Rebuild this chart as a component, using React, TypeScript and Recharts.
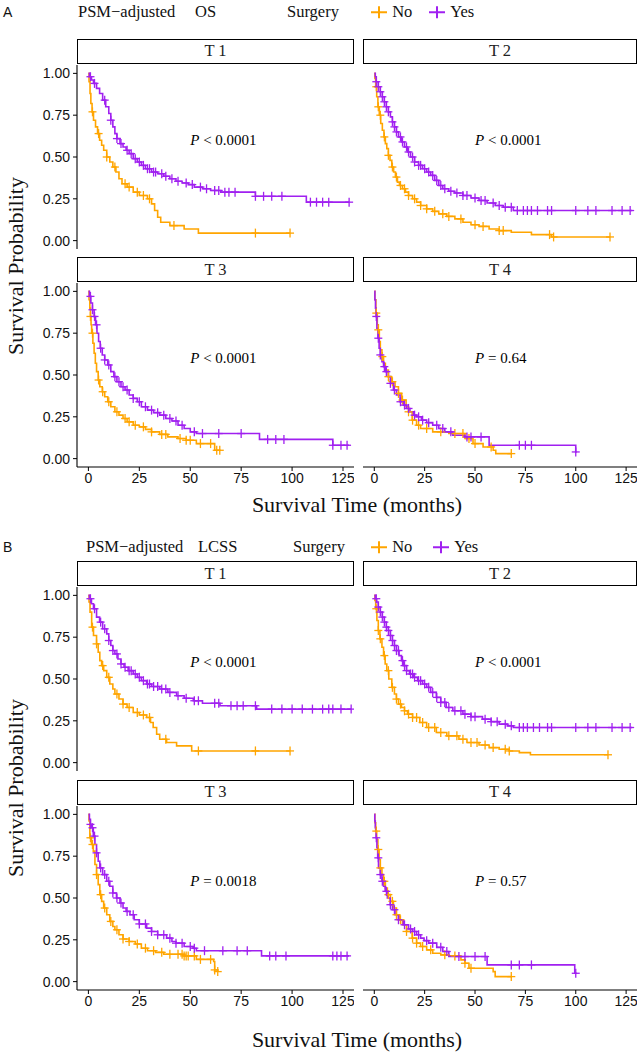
import React from 'react';
import { ComposedChart, Line, Scatter, XAxis, YAxis, ReferenceDot } from 'recharts';

type Pt = [number, number];

const ORANGE = '#FFA500';
const PURPLE = '#A020F0';
const SERIF = '"Liberation Serif", "Times New Roman", serif';
const SANS = '"Liberation Sans", Arial, sans-serif';

const strata = ['T 1', 'T 2', 'T 3', 'T 4'];
const xTicks = [0, 25, 50, 75, 100, 125];
const yTicks = [0, 0.25, 0.5, 0.75, 1];
const osPvals = ['< 0.0001', '< 0.0001', '< 0.0001', '= 0.64'];
const lcssPvals = ['< 0.0001', '< 0.0001', '= 0.0018', '= 0.57'];

// ---- OS (A) : [time, survival] steps, censor times ----
const osT1No: Pt[] = [[0,1],[0.3,0.95],[0.8,0.88],[1.2,0.82],[1.8,0.77],[2.5,0.72],[3.5,0.68],[4.5,0.64],[5.5,0.6],[6.5,0.57],[7.5,0.54],[9,0.5],[10.5,0.47],[12,0.44],[13.5,0.41],[15,0.37],[16.5,0.34],[19,0.32],[22,0.29],[25,0.27],[29,0.25],[31,0.22],[32.5,0.18],[34,0.14],[35.5,0.11],[40,0.09],[47,0.07],[54,0.045],[99,0.045]];
const osT1NoCens = [2,5,9,13,18,20,24,27,30,42,82,99];
const osT1Yes: Pt[] = [[0,1],[0.5,0.98],[1.5,0.96],[2.5,0.94],[4,0.91],[5.5,0.88],[7,0.84],[8.5,0.8],[10,0.76],[11,0.72],[12,0.68],[13,0.64],[14,0.61],[15.5,0.58],[17,0.56],[18.5,0.54],[20,0.52],[22,0.49],[24,0.47],[26,0.45],[28,0.43],[31,0.41],[34,0.4],[37,0.385],[40,0.37],[43,0.355],[46,0.345],[49,0.335],[52,0.32],[56,0.31],[60,0.3],[65,0.29],[82,0.265],[107,0.23],[128,0.23]];
const osT1YesCens = [1,3,8,11,14,16,19,21,23,25,27,29,30,32,33,36,38,41,44,48,51,55,58,62,64,67,69,72,82,86,90,95,109,112,115,118,128];

const osT2No: Pt[] = [[0,1],[0.3,0.97],[0.7,0.92],[1.2,0.86],[1.8,0.8],[2.5,0.75],[3.2,0.7],[4,0.66],[4.8,0.62],[5.5,0.58],[6.2,0.55],[7,0.51],[7.8,0.48],[8.7,0.44],[9.6,0.41],[10.5,0.38],[11.5,0.35],[12.5,0.33],[14,0.31],[15.5,0.29],[17,0.27],[19,0.25],[21,0.23],[23,0.21],[26,0.19],[29,0.175],[32,0.16],[36,0.145],[40,0.13],[44,0.11],[48,0.095],[52,0.085],[57,0.07],[62,0.06],[68,0.05],[78,0.036],[88,0.022],[117,0.022]];
const osT2NoCens = [1,2,3,5,7,9,11,13,15,17,20,23,26,30,34,37,43,50,54,62,64,87,89,117];
const osT2Yes: Pt[] = [[0,1],[0.5,0.98],[1,0.95],[2,0.92],[3,0.89],[4,0.86],[5,0.83],[6,0.8],[7,0.77],[8,0.74],[9,0.71],[10,0.68],[11,0.65],[12,0.62],[13.5,0.59],[15,0.56],[16.5,0.53],[18,0.5],[20,0.47],[22,0.45],[24,0.43],[26,0.41],[28,0.39],[30,0.36],[32,0.33],[34,0.31],[37,0.295],[40,0.285],[44,0.27],[48,0.255],[52,0.24],[56,0.225],[60,0.21],[64,0.2],[69,0.18],[128,0.18]];
const osT2YesCens = [1,2,3,4,5,6,7,9,10,11,13,14,16,17,19,20,22,23,25,27,29,31,33,35,38,41,44,46,50,53,55,59,62,65,68,71,74,76,78,81,86,88,100,106,110,118,123,127];

const osT3No: Pt[] = [[0,1],[0.3,0.95],[0.7,0.9],[1,0.85],[1.3,0.8],[1.6,0.75],[2.2,0.69],[2.8,0.63],[3.4,0.57],[4,0.52],[4.8,0.47],[5.6,0.43],[6.8,0.4],[8,0.37],[9.5,0.34],[11,0.31],[13,0.28],[15,0.26],[17,0.24],[19,0.22],[22,0.2],[25,0.19],[28,0.175],[31,0.16],[35,0.145],[39,0.13],[44,0.12],[48,0.11],[53,0.09],[62,0.05],[64.5,0.05]];
const osT3NoCens = [1,2,5,7,10,14,18,20,23,27,31,36,38,45,48,50,55,60,63,64.5];
const osT3Yes: Pt[] = [[0,1],[0.5,0.97],[1.2,0.93],[2,0.89],[2.8,0.85],[3.5,0.8],[4.2,0.75],[5,0.7],[5.8,0.66],[6.8,0.62],[8,0.59],[9.5,0.56],[11,0.52],[12.5,0.49],[14,0.46],[16,0.43],[18,0.41],[20,0.38],[22,0.36],[24,0.34],[26,0.31],[29,0.29],[32,0.275],[35,0.26],[38,0.24],[41,0.225],[44,0.2],[47,0.18],[50,0.16],[53,0.15],[84,0.115],[120,0.08],[128,0.08]];
const osT3YesCens = [1,2,3,4,6,8,10,13,15,17,19,22,25,28,31,34,37,40,43,46,52,56,64,75,88,92,96,120,124,127];

const osT4No: Pt[] = [[0,1],[0.3,0.95],[0.8,0.87],[1.5,0.8],[2,0.77],[2.5,0.7],[3,0.65],[3.8,0.61],[4.6,0.57],[5.5,0.53],[7,0.49],[8.5,0.46],[10.3,0.43],[12,0.39],[13.6,0.35],[15.8,0.31],[17,0.28],[18.8,0.23],[21,0.2],[23,0.18],[29,0.16],[37,0.15],[45,0.12],[49,0.09],[54,0.07],[59,0.05],[60.3,0.03],[68.4,0.03]];
const osT4NoCens = [1,2,4,7,9,12,14,17,19,22,26,33,40,44,47,50,58,68];
const osT4Yes: Pt[] = [[0,1],[0.3,0.95],[0.6,0.9],[0.9,0.85],[1.3,0.78],[1.8,0.72],[2.4,0.66],[3,0.62],[3.8,0.58],[4.6,0.55],[5.5,0.52],[7,0.49],[8,0.45],[9.5,0.41],[11,0.38],[12.8,0.34],[14.5,0.32],[16,0.3],[17.7,0.28],[19.5,0.26],[21,0.25],[23.4,0.23],[26,0.215],[29,0.2],[32,0.18],[35,0.16],[39,0.14],[45,0.13],[57,0.08],[100,0.04],[100.5,0.04]];
const osT4YesCens = [1,2,3,5,6,8,10,13,15,17,20,22,24,27,31,34,38,46,48,53,72,75,78,100];

// ---- LCSS (B) ----
const lcssT1No: Pt[] = [[0,1],[0.3,0.96],[0.8,0.9],[1.6,0.81],[2.5,0.76],[4,0.71],[4.8,0.66],[5.6,0.61],[6.5,0.58],[7.5,0.55],[9,0.51],[10.5,0.47],[12,0.44],[13,0.41],[15,0.38],[17,0.35],[19,0.33],[22,0.3],[25,0.285],[28.6,0.27],[30.5,0.24],[31.8,0.21],[33.5,0.17],[35,0.14],[38.4,0.12],[43.3,0.1],[50.7,0.07],[99,0.07]];
const lcssT1NoCens = [2,4,7,10,14,17,20,24,27,30,38,54,82,99];
const lcssT1Yes: Pt[] = [[0,1],[0.5,0.98],[1.5,0.95],[2.5,0.92],[4,0.87],[5.5,0.84],[7,0.8],[9,0.77],[10,0.73],[11,0.7],[12,0.67],[13,0.65],[14.5,0.62],[16,0.59],[17.5,0.57],[19.5,0.55],[22,0.53],[24,0.51],[26,0.49],[28.6,0.47],[31,0.455],[35,0.44],[39,0.42],[43.3,0.4],[47,0.385],[51.5,0.37],[56,0.355],[64.6,0.34],[82.6,0.32],[129,0.32]];
const lcssT1YesCens = [1,3,6,8,10,12,14,16,18,20,21,23,25,27,29,30,32,34,36,38,40,44,48,52,54,62,64,70,73,76,82,90,95,100,105,110,115,118,120,124,129];

const lcssT2No: Pt[] = [[0,1],[0.3,0.97],[0.7,0.92],[1.3,0.85],[2,0.79],[2.8,0.74],[3.8,0.69],[4.6,0.64],[5.4,0.59],[6.2,0.55],[7.2,0.5],[8.7,0.45],[10,0.41],[11,0.38],[12,0.35],[13.5,0.33],[15,0.31],[16.5,0.29],[19,0.27],[22.6,0.24],[26,0.21],[30.8,0.18],[36,0.16],[42,0.14],[46,0.12],[52,0.105],[57,0.09],[62,0.08],[67,0.07],[72,0.06],[77.5,0.047],[116,0.047]];
const lcssT2NoCens = [1,2,3,5,7,9,11,13,15,17,19,21,24,27,30,33,37,41,44,48,51,55,59,65,67,116];
const lcssT2Yes: Pt[] = [[0,1],[0.5,0.98],[1.2,0.96],[2,0.93],[3,0.9],[4,0.87],[5,0.84],[6,0.81],[7,0.79],[8,0.76],[9,0.73],[10,0.7],[11,0.67],[12.3,0.64],[13.5,0.61],[14.4,0.58],[16,0.55],[17.5,0.53],[19.3,0.51],[21.5,0.49],[24,0.47],[26,0.45],[28,0.42],[30.8,0.39],[33,0.36],[35.7,0.33],[39,0.31],[44,0.29],[48,0.275],[53.7,0.26],[58,0.245],[62,0.23],[66,0.22],[69,0.21],[128,0.21]];
const lcssT2YesCens = [1,2,3,4,5,6,7,8,9,10,11,12,14,15,16,18,19,20,22,23,25,27,29,31,33,35,37,40,43,45,48,50,55,58,61,65,68,72,74,76,79,82,86,88,100,106,110,118,123,127];

const lcssT3No: Pt[] = [[0,1],[0.3,0.96],[0.7,0.86],[1.5,0.82],[2.4,0.78],[3.2,0.7],[4,0.64],[4.8,0.58],[5.6,0.52],[6.5,0.48],[7.5,0.44],[9,0.4],[10.5,0.36],[12,0.33],[13,0.31],[15,0.28],[17,0.255],[20,0.24],[23,0.225],[26,0.2],[29,0.185],[33,0.175],[37,0.164],[47,0.154],[53,0.133],[61.5,0.12],[62,0.07],[63.5,0.06]];
const lcssT3NoCens = [1,2,4,6,8,11,14,17,20,24,28,32,36,40,44,46,47,48,49,52,55,60,62,63.5];
const lcssT3Yes: Pt[] = [[0,1],[0.5,0.97],[1,0.94],[1.6,0.92],[2.4,0.87],[3.2,0.82],[4,0.77],[4.8,0.72],[5.6,0.68],[7,0.64],[9,0.6],[10.5,0.57],[12,0.53],[13.8,0.5],[15.5,0.47],[17,0.44],[18.5,0.42],[20.4,0.4],[22.5,0.37],[25,0.345],[28.6,0.32],[31,0.3],[34,0.28],[38.4,0.26],[41,0.24],[43,0.23],[47,0.21],[51.4,0.2],[53,0.185],[82,0.185],[85,0.154],[128,0.154]];
const lcssT3YesCens = [1,2,3,4,6,8,10,12,14,16,19,22,25,28,31,34,37,40,43,46,50,52,57,66,73,78,89,92,97,120,122,124,127];

const lcssT4No: Pt[] = [[0,1],[0.3,0.95],[0.7,0.9],[1.2,0.85],[1.8,0.79],[2.4,0.73],[3,0.68],[3.8,0.64],[4.6,0.6],[5.5,0.56],[6.5,0.52],[8,0.48],[9.5,0.44],[11,0.4],[12.5,0.37],[14,0.34],[16,0.3],[18.8,0.26],[21,0.23],[23,0.21],[26,0.19],[29,0.17],[33,0.16],[37,0.154],[43,0.13],[45,0.11],[47,0.08],[59,0.06],[60,0.03],[68.4,0.03]];
const lcssT4NoCens = [1,2,3,5,7,9,11,13,16,19,21,24,28,35,40,45,48,68];
const lcssT4Yes: Pt[] = [[0,1],[0.25,0.96],[0.5,0.92],[0.9,0.86],[1.3,0.8],[1.7,0.74],[2.1,0.68],[3,0.64],[3.8,0.6],[4.6,0.57],[5.4,0.54],[6.5,0.5],[7.9,0.46],[9,0.43],[10.3,0.4],[12,0.37],[14.4,0.34],[17,0.315],[19,0.3],[21,0.28],[23,0.26],[24.7,0.245],[27,0.23],[31,0.205],[34,0.18],[37,0.15],[56,0.1],[99.5,0.05],[100.5,0.05]];
const lcssT4YesCens = [1,2,3,4,6,8,10,12,15,18,20,22,26,29,33,36,42,45,50,55,68,72,78,100];

const osPanels = [
  { no: osT1No, noCens: osT1NoCens, yes: osT1Yes, yesCens: osT1YesCens },
  { no: osT2No, noCens: osT2NoCens, yes: osT2Yes, yesCens: osT2YesCens },
  { no: osT3No, noCens: osT3NoCens, yes: osT3Yes, yesCens: osT3YesCens },
  { no: osT4No, noCens: osT4NoCens, yes: osT4Yes, yesCens: osT4YesCens },
];
const lcssPanels = [
  { no: lcssT1No, noCens: lcssT1NoCens, yes: lcssT1Yes, yesCens: lcssT1YesCens },
  { no: lcssT2No, noCens: lcssT2NoCens, yes: lcssT2Yes, yesCens: lcssT2YesCens },
  { no: lcssT3No, noCens: lcssT3NoCens, yes: lcssT3Yes, yesCens: lcssT3YesCens },
  { no: lcssT4No, noCens: lcssT4NoCens, yes: lcssT4Yes, yesCens: lcssT4YesCens },
];

const X_DOMAIN: [number, number] = [-5.6, 130.4];
const Y_DOMAIN: [number, number] = [-0.05, 1.05];
const YAXIS_W = 77;
const LEFT_PLOT_W = 277;
const RIGHT_X = 363;
const RIGHT_PLOT_W = 274;
const PLOT_H = 184;
const XAXIS_H = 30;
const STRIP_H = 25;

const toRows = (pts: Pt[]) => pts.map(([t, s]) => ({ t, s }));
const survAt = (pts: Pt[], t: number) => {
  let s = 1;
  for (const [pt, ps] of pts) if (pt <= t) s = ps;
  return s;
};
const censRows = (pts: Pt[], times: number[]) => times.map((t) => ({ t, s: survAt(pts, t) }));

const plus = (color: string) => (props: any) => {
  const { cx, cy } = props;
  if (cx == null || cy == null) return <g />;
  return (
    <g>
      <line x1={cx - 4} x2={cx + 4} y1={cy} y2={cy} stroke={color} strokeWidth={1.3} />
      <line x1={cx} x2={cx} y1={cy - 4.5} y2={cy + 4.5} stroke={color} strokeWidth={1.3} />
    </g>
  );
};

const PLabel = (text: string) => (props: any) => (
  <text x={props.cx} y={props.cy} dominantBaseline="middle" fontFamily={SERIF} fontSize={15} fill="#000">
    <tspan fontStyle="italic">P</tspan> {text}
  </text>
);

function Panel({ top, col, row, curves, pval, label }: any) {
  const isLeft = col === 0;
  const isBottom = row === 1;
  const width = isLeft ? YAXIS_W + LEFT_PLOT_W : RIGHT_PLOT_W;
  const height = PLOT_H + (isBottom ? XAXIS_H : 0);
  const left = isLeft ? 0 : RIGHT_X;
  const stripLeft = isLeft ? YAXIS_W : RIGHT_X;
  const stripW = isLeft ? LEFT_PLOT_W : RIGHT_PLOT_W;
  return (
    <>
      <div
        style={{
          position: 'absolute', left: stripLeft, top: top - STRIP_H - 1, width: stripW, height: STRIP_H,
          boxSizing: 'border-box', border: '1.3px solid #000', background: '#fff',
          display: 'flex', alignItems: 'center', justifyContent: 'center',
          fontFamily: SERIF, fontSize: 16.5, color: '#222',
        }}
      >
        {label}
      </div>
      <div style={{ position: 'absolute', left, top }}>
        <ComposedChart width={width} height={height} margin={{ top: 0, right: 0, bottom: 0, left: 0 }}>
          <XAxis
            type="number" dataKey="t" domain={X_DOMAIN} ticks={xTicks} interval={0} allowDataOverflow
            hide={!isBottom} height={XAXIS_H}
            axisLine={{ stroke: '#000', strokeWidth: 1.1 }} tickLine={{ stroke: '#000' }}
            tickSize={4} tickMargin={2}
            tick={{ fill: '#111', fontSize: 14, fontFamily: SANS }}
          />
          <YAxis
            type="number" dataKey="s" domain={Y_DOMAIN} ticks={yTicks} interval={0} allowDataOverflow
            hide={!isLeft} width={YAXIS_W}
            tickFormatter={(v: number) => v.toFixed(2)}
            axisLine={{ stroke: '#000', strokeWidth: 1.1 }} tickLine={{ stroke: '#000' }}
            tickSize={4} tickMargin={3}
            tick={{ fill: '#111', fontSize: 14, fontFamily: SANS }}
          />
          <Line data={toRows(curves.no)} dataKey="s" type="stepAfter" stroke={ORANGE} strokeWidth={1.6} dot={false} isAnimationActive={false} />
          <Line data={toRows(curves.yes)} dataKey="s" type="stepAfter" stroke={PURPLE} strokeWidth={1.6} dot={false} isAnimationActive={false} />
          <Scatter data={censRows(curves.no, curves.noCens)} shape={plus(ORANGE)} isAnimationActive={false} />
          <Scatter data={censRows(curves.yes, curves.yesCens)} shape={plus(PURPLE)} isAnimationActive={false} />
          <ReferenceDot x={50} y={0.59} r={0} shape={PLabel(pval)} />
        </ComposedChart>
      </div>
    </>
  );
}

const LegendGlyph = ({ color }: { color: string }) => (
  <svg width={18} height={14} style={{ display: 'inline-block', verticalAlign: 'middle' }}>
    <line x1={1} x2={17} y1={7} y2={7} stroke={color} strokeWidth={2} />
    <line x1={9} x2={9} y1={1} y2={13} stroke={color} strokeWidth={2} />
  </svg>
);

const Txt = ({ x, y, size, family, children }: any) => (
  <div style={{ position: 'absolute', left: x, top: y, transform: 'translateY(-50%)', fontFamily: family, fontSize: size, lineHeight: 1, whiteSpace: 'nowrap', color: '#111' }}>
    {children}
  </div>
);

function Section({ top, letter, endpoint, endpointX, headerY, xTitleY, panels, pvals }: any) {
  const row1 = top + 64.5;
  const row2 = top + 283.4;
  return (
    <>
      <Txt x={3} y={top + headerY} size={14} family={SANS}>{letter}</Txt>
      <Txt x={endpointX[0]} y={top + headerY} size={16.5} family={SERIF}>PSM−adjusted</Txt>
      <Txt x={endpointX[1]} y={top + headerY} size={16.5} family={SERIF}>{endpoint}</Txt>
      <Txt x={endpointX[2]} y={top + headerY} size={16.5} family={SERIF}>Surgery</Txt>
      <Txt x={endpointX[3]} y={top + headerY} size={16.5} family={SERIF}>
        <LegendGlyph color={ORANGE} /> <span style={{ verticalAlign: 'middle' }}>No</span>
      </Txt>
      <Txt x={endpointX[4]} y={top + headerY} size={16.5} family={SERIF}>
        <LegendGlyph color={PURPLE} /> <span style={{ verticalAlign: 'middle' }}>Yes</span>
      </Txt>
      {panels.map((c: any, i: number) => (
        <Panel key={i} top={i < 2 ? row1 : row2} col={i % 2} row={i < 2 ? 0 : 1} curves={c} pval={pvals[i]} label={strata[i]} />
      ))}
      <div style={{ position: 'absolute', left: 16, top: top + 265.5, transform: 'translate(-50%, -50%) rotate(-90deg)', fontFamily: SERIF, fontSize: 22, whiteSpace: 'nowrap', color: '#111', lineHeight: 1 }}>
        Survival Probability
      </div>
      <div style={{ position: 'absolute', left: 357, top: top + xTitleY, transform: 'translate(-50%, -50%)', fontFamily: SERIF, fontSize: 22, whiteSpace: 'nowrap', color: '#111', lineHeight: 1 }}>
        Survival Time (months)
      </div>
    </>
  );
}

export default function App() {
  return (
    <div style={{ position: 'absolute', left: 0, top: 0, width: 643, height: 1059, background: '#fff', overflow: 'hidden' }}>
      <Section top={0} letter="A" endpoint="OS" endpointX={[78, 195, 287, 370, 428]} headerY={12} xTitleY={505} panels={osPanels} pvals={osPvals} />
      <Section top={522.5} letter="B" endpoint="LCSS" endpointX={[86, 198, 293, 370, 432]} headerY={24.5} xTitleY={517.5} panels={lcssPanels} pvals={lcssPvals} />
    </div>
  );
}
